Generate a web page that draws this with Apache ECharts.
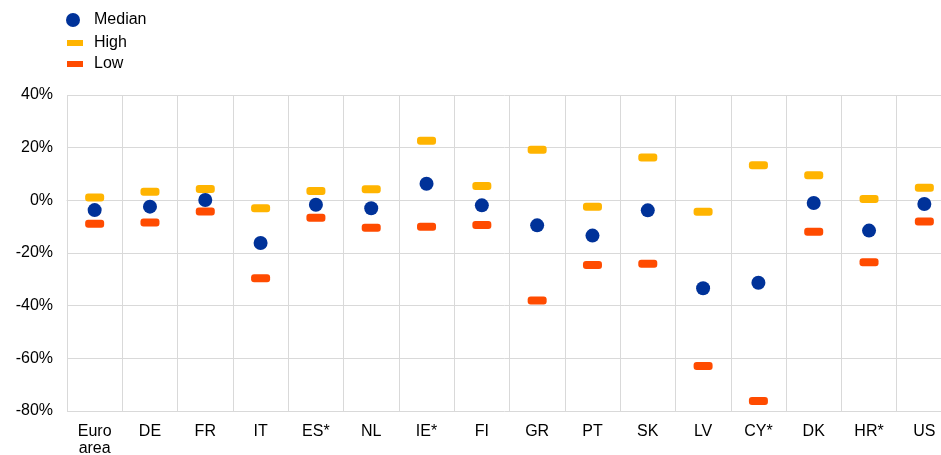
<!DOCTYPE html>
<html>
<head>
<meta charset="utf-8">
<script src="https://cdn.jsdelivr.net/npm/echarts@6/dist/echarts.min.js"></script>
<style>
  html, body { margin: 0; padding: 0; background: #fff; }
  #chart { width: 941px; height: 455px; }
</style>
</head>
<body>
<div id="chart"></div>
<script>
// countries
const categories = ['Euro\narea', 'DE', 'FR', 'IT', 'ES*', 'NL', 'IE*', 'FI', 'GR', 'PT', 'SK', 'LV', 'CY*', 'DK', 'HR*', 'US'];
// values in %
const median = [-3.7, -2.4, 0.1, -16.2, -1.7, -3.0, 6.3, -1.9, -9.5, -13.4, -3.8, -33.4, -31.3, -1.0, -11.5, -1.4];
const high = [1.1, 3.3, 4.3, -3.0, 3.5, 4.2, 22.6, 5.4, 19.2, -2.4, 16.3, -4.3, 13.3, 9.5, 0.5, 4.8];
const low = [-8.9, -8.4, -4.2, -29.6, -6.6, -10.4, -10.0, -9.4, -38.0, -24.6, -24.1, -62.9, -76.2, -11.9, -23.5, -8.0];

const BLUE = '#003299';
const YELLOW = '#FFB400';
const ORANGE = '#FF4B00';
const FONT = '"Liberation Sans", Arial, sans-serif';
// rounded bar marker
const PILL = 'path://M3,0 H16 Q19,0 19,3 V5 Q19,8 16,8 H3 Q0,8 0,5 V3 Q0,0 3,0 Z';

const chart = echarts.init(document.getElementById('chart'));

function legendFor(name, top, left, w, h, icon, pad) {
  return {
    data: [{ name: name, icon: icon }],
    left: left,
    top: top,
    padding: 0,
    orient: 'vertical',
    itemWidth: w,
    itemHeight: h,
    selectedMode: false,
    textStyle: { fontFamily: FONT, fontSize: 16, color: '#000', padding: [0, 0, 0, pad] }
  };
}

chart.setOption({
  animation: false,
  legend: [
    legendFor('Median', 12, 66, 14, 14, 'circle', 9),
    legendFor('High', 35, 67, 16, 6, 'rect', 6),
    legendFor('Low', 56, 67, 16, 6, 'rect', 6)
  ],
  grid: { left: 67, top: 95, right: -11, bottom: 44, outerBoundsMode: 'none' },
  xAxis: {
    type: 'category',
    data: categories,
    boundaryGap: true,
    axisTick: { show: false },
    axisLine: { lineStyle: { color: '#d9d9d9', width: 1 } },
    splitLine: { show: true, interval: 0, lineStyle: { color: '#d9d9d9', width: 1 } },
    axisLabel: { interval: 0, margin: 12, fontFamily: FONT, fontSize: 16, color: '#000', lineHeight: 17 }
  },
  yAxis: {
    type: 'value',
    min: -80,
    max: 40,
    interval: 20,
    axisLine: { show: false },
    axisTick: { show: false },
    splitLine: { lineStyle: { color: '#d9d9d9', width: 1 } },
    axisLabel: { formatter: '{value}%', margin: 14, fontFamily: FONT, fontSize: 16, color: '#000' }
  },
  series: [
    {
      name: 'Median', type: 'scatter', data: median,
      symbol: 'circle', symbolSize: 14,
      itemStyle: { color: BLUE, opacity: 1 }, z: 3
    },
    {
      name: 'High', type: 'scatter', data: high,
      symbol: PILL, symbolSize: [19, 8],
      itemStyle: { color: YELLOW, opacity: 1 }, z: 2
    },
    {
      name: 'Low', type: 'scatter', data: low,
      symbol: PILL, symbolSize: [19, 8],
      itemStyle: { color: ORANGE, opacity: 1 }, z: 2
    }
  ]
});
</script>
</body>
</html>
